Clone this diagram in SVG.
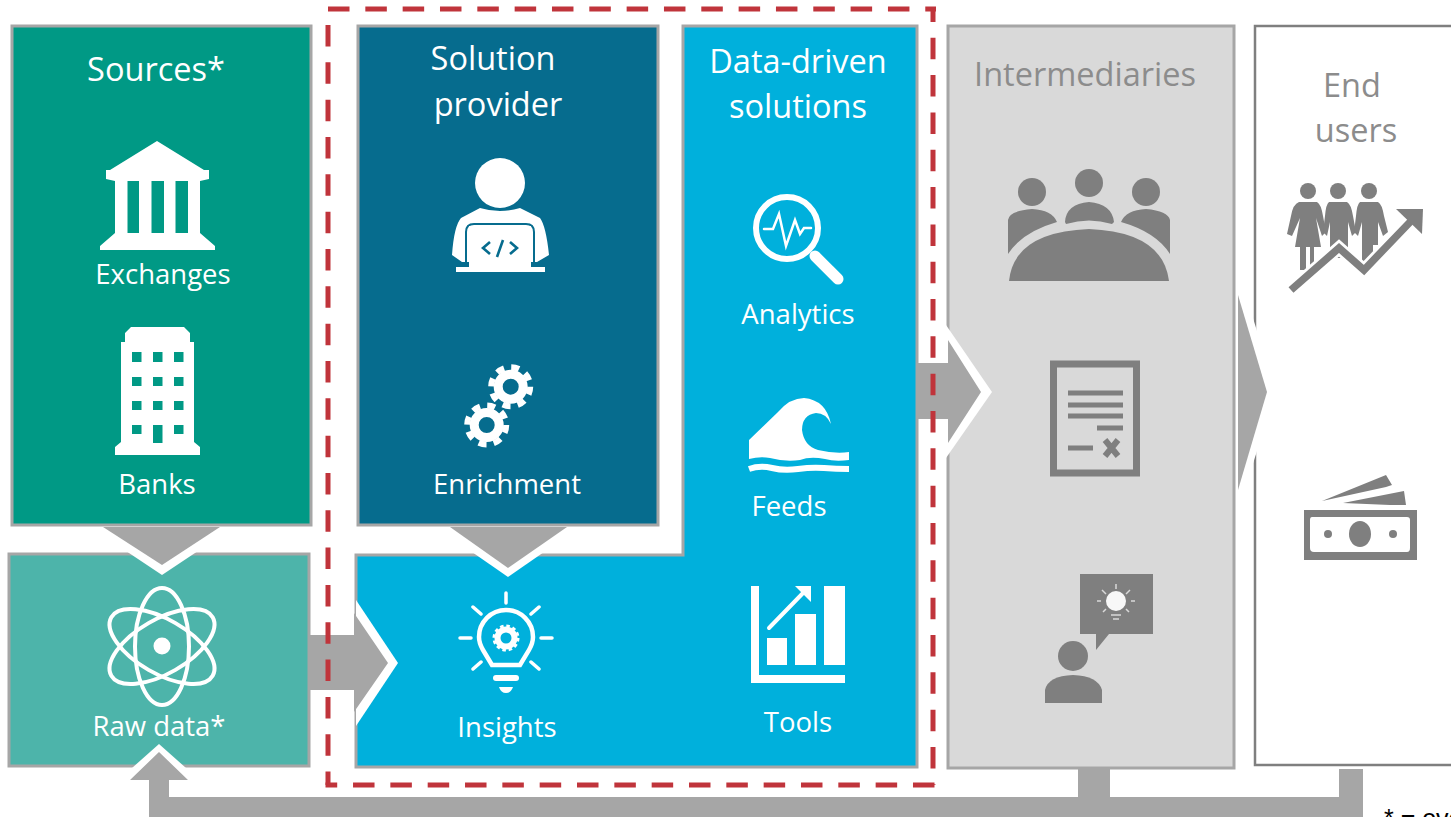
<svg xmlns="http://www.w3.org/2000/svg" width="1451" height="817" viewBox="0 0 1451 817">
<style>
.t{font-family:"Open Sans","Noto Sans",sans-serif;fill:#fff;text-anchor:middle}
.h{font-size:32.500px}.l{font-size:27.500px}
.gt{fill:#8c8c8c}
.g{fill:#7f7f7f}.w{fill:#fff}
.a{fill:#a6a6a6}
.box{stroke:#a6a6a6;stroke-width:3}
.dash{fill:none;stroke:#c0343b;stroke-width:5;stroke-dasharray:21.5 15.83}
.ln{fill:none;stroke:#fff;stroke-linecap:round}
.ring{fill:none;stroke:#fff;stroke-width:9}
.teeth{fill:none;stroke:#fff;stroke-width:6;stroke-dasharray:8 7.31}
</style>
<rect width="1451" height="817" fill="#fff"/>
<g id="sources">
<rect class="box" x="12" y="26" width="299" height="499" fill="#009985"/>
<text class="t h" x="156" y="81">Sources*</text>
<path class="w" d="M157 141L204 170H209V179L200 181V233L215 246V250H100V246L115 233V181L106 179V170H110ZM127.500 181V233H139V181ZM151.500 181V233H164V181ZM175.500 181V233H188V181Z" fill-rule="evenodd"/>
<text class="t l" x="163" y="284">Exchanges</text>
<path class="w" d="M131 327H184L190 333V342H194V442L200 447V455H115V447L121 442V342H125V333ZM132 352V362H141.500V352ZM153 352V362H162.500V352ZM174 352V362H183.500V352ZM132 377V386H141.500V377ZM153 377V386H162.500V377ZM174 377V386H183.500V377ZM132 401V410H141.500V401ZM153 401V410H162.500V401ZM174 401V410H183.500V401ZM132 425V434H141.500V425ZM153 425V443H162.500V425ZM174 425V434H183.500V425Z" fill-rule="evenodd"/>
<text class="t l" x="157" y="494">Banks</text>
</g>
<g id="raw-data">
<rect class="box" x="9" y="554" width="300" height="212" fill="#4db4aa"/>
<g fill="none" stroke="#fff" stroke-width="4">
<ellipse cx="162" cy="646.500" rx="27" ry="58.500"/>
<ellipse cx="162" cy="646.500" rx="27" ry="58.500" transform="rotate(60 162 646.500)"/>
<ellipse cx="162" cy="646.500" rx="27" ry="58.500" transform="rotate(-60 162 646.500)"/>
<circle cx="162" cy="646" r="8.500" fill="#fff" stroke="none"/>
</g>
<text class="t l" x="159" y="736">Raw data*</text>
</g>
<g id="solution-provider">
<rect class="box" x="358" y="26" width="300" height="499" fill="#066c8e"/>
<text class="t h" x="493" y="70">Solution</text>
<text class="t h" x="498" y="116">provider</text>
<circle class="w" cx="500" cy="183" r="25"/>
<path class="w" d="M480 208Q500 214 520 208L540 218Q546 226 549 255L537 262H462L452 255Q454 226 461 218Z"/>
<path d="M466 262V232Q466 224 474 224H526Q534 224 534 232V262" fill="none" stroke="#066c8e" stroke-width="2"/>
<rect class="w" x="456" y="267" width="89" height="5"/>
<rect class="w" x="469" y="226" width="62" height="44"/>
<path d="M490 242L483 248L490 254M510 242L517 248L510 254M503 240L497 257" fill="none" stroke="#066c8e" stroke-width="2.600"/>
<circle class="ring" cx="510.700" cy="386.700" r="12.500"/><circle class="teeth" cx="510.700" cy="386.700" r="19.500"/>
<circle class="ring" cx="486.700" cy="425" r="12.500"/><circle class="teeth" cx="486.700" cy="425" r="19.500"/>
<text class="t l" x="507" y="494">Enrichment</text>
</g>
<g id="data-driven-solutions">
<path class="box" d="M683 26H917V767H356V555H683Z" fill="#00b0dc"/>
<text class="t h" x="798" y="73">Data-driven</text>
<text class="t h" x="798" y="118">solutions</text>
<circle cx="787" cy="228" r="31" fill="none" stroke="#fff" stroke-width="6"/>
<path d="M815 256L838 279" fill="none" stroke="#fff" stroke-width="11" stroke-linecap="round"/>
<path d="M764 229H773L779 214L786 246L795 220L800 234L804 228H811" class="ln" stroke-width="2.500"/>
<text class="t l" x="798" y="324">Analytics</text>
<path class="w" d="M749 440L778 412Q790 398 804 398Q826 400 831 424Q826 413 816 413Q802 415 802 430Q804 446 818 450Q835 454 849 452V460Q835 462 825 459Q810 456 800 460Q785 462 770 458Q760 456 749 459Z"/>
<path d="M749 469Q760 465 772 468T798 469T824 468T849 469" fill="none" stroke="#fff" stroke-width="6"/>
<text class="t l" x="789" y="516">Feeds</text>
<path class="w" d="M751 586H759V675H845V683H751ZM767 638H787V665H767ZM795 614H816V665H795ZM824 586H845V665H824Z"/>
<path d="M769 628L804 592" class="ln" stroke-width="4"/>
<path class="w" d="M795 586H811V602Z"/>
<text class="t l" x="798" y="732">Tools</text>
<g id="insights">
<path d="M506 593V603M473 607L481 614M539 607L531 614M460 638H471M541 638H552M473 669L481 662M539 669L531 662" class="ln" stroke-width="3.500"/>
<path d="M492 665L483 650Q479 643 479 637A27 27 0 0 1 533 637Q533 643 529 650L520 665Z" fill="none" stroke="#fff" stroke-width="4.500"/>
<circle cx="506" cy="638" r="8.500" fill="none" stroke="#fff" stroke-width="6"/>
<circle cx="506" cy="638" r="12" fill="none" stroke="#fff" stroke-width="3" stroke-dasharray="3.500 2.780"/>
<rect class="w" x="493" y="675" width="26" height="6" rx="3"/>
<path class="w" d="M499 687H513Q511 693 506 693Q501 693 499 687Z"/>
<text class="t l" x="507" y="737">Insights</text>
</g>
</g>
<g id="intermediaries">
<rect class="box" x="948" y="26" width="286" height="742" fill="#d9d9d9"/>
<text class="t h gt" x="1085" y="86" style="fill:#8c8c8c">Intermediaries</text>
<circle class="g" cx="1032" cy="192" r="14"/><circle class="g" cx="1089" cy="183" r="14"/><circle class="g" cx="1146" cy="192" r="14"/>
<path class="g" d="M1008 220Q1009 211 1032 209Q1052 210 1057 222Q1022 232 1008 254ZM1065 222Q1066 204 1089 202Q1112 204 1114 222L1112 224Q1089 217 1066 224ZM1121 222Q1126 210 1146 209Q1168 211 1170 220V254Q1156 232 1121 222Z"/>
<path class="g" d="M1009 281Q1014 232 1089 229Q1163 232 1169 281Z"/>
<rect x="1053.500" y="364" width="83" height="109" fill="none" stroke="#7f7f7f" stroke-width="7"/>
<path d="M1068 393H1123M1068 405H1123M1068 416H1123M1097 428H1123M1068 448H1093" fill="none" stroke="#7f7f7f" stroke-width="5"/>
<path d="M1105 440L1118 456M1118 440L1105 456" fill="none" stroke="#7f7f7f" stroke-width="6"/>
<path class="g" d="M1080 574H1153V634H1109L1096 650V634H1080Z"/>
<circle cx="1116" cy="601" r="10" fill="#fff" opacity=".95"/>
<path d="M1116 584V589M1102 590L1106 594M1130 590L1126 594M1097 601H1101M1131 601H1135M1103 612L1106 609M1129 612L1126 609M1111 615H1121M1113 619H1119" fill="none" stroke="#d9d9d9" stroke-width="1.500"/>
<circle class="g" cx="1073" cy="656" r="15"/>
<path class="g" d="M1045 703V690Q1048 676 1073 675Q1098 676 1102 690V703Z"/>
</g>
<g id="end-users">
<path d="M1451 26H1255V765H1451" fill="#fff" stroke="#7f7f7f" stroke-width="2.500"/>
<text class="t h" x="1352" y="97" style="fill:#8c8c8c">End</text>
<text class="t h" x="1356" y="142" style="fill:#8c8c8c">users</text>
<circle class="g" cx="1308" cy="191" r="8"/><circle class="g" cx="1338" cy="191" r="8"/><circle class="g" cx="1369" cy="191" r="8"/>
<path class="g" d="M1299 202H1317Q1321 204 1323 216L1326 232L1322 236L1316 218L1321 247H1314V270H1310V247H1306V270H1300V247H1295L1300 218L1292 236L1287 234L1291 216Q1293 204 1299 202Z"/>
<path class="g" d="M1329 202H1347Q1351 204 1353 216L1356 232L1352 236L1348 222V258H1330V222L1327 236L1323 232L1325 216Q1326 204 1329 202Z"/>
<path class="g" d="M1360 202H1378Q1382 204 1384 216L1388 232L1383 236L1378 222V245H1373V258H1369V268H1362V222L1358 236L1354 232L1356 216Q1357 204 1360 202Z"/>
<path d="M1291 290L1339 248L1364 270L1412 220" fill="none" stroke="#fff" stroke-width="13"/>
<path d="M1291 290L1339 248L1364 270L1412 220" fill="none" stroke="#7f7f7f" stroke-width="7.500"/>
<path class="g" d="M1396 209H1423L1422 234Z"/>
<path class="g" d="M1304 510H1417V560H1304ZM1312 517Q1310 517 1310 520V548Q1310 552 1314 552H1407Q1410 552 1410 548V520Q1410 517 1407 517Z" fill-rule="evenodd"/>
<ellipse class="g" cx="1360" cy="534" rx="11" ry="13"/><circle class="g" cx="1328" cy="534" r="4"/><circle class="g" cx="1393" cy="534" r="4"/>
<path class="g" d="M1322 501L1386 475L1392 485L1386 487ZM1343 503L1404 491L1406 505H1390Z"/>
</g>
<g id="connectors">
<path class="w" d="M90 527H234L162 575Z"/><path class="a" d="M103 527H220L162 565Z"/>
<path class="w" d="M436 527H580L508 577Z"/><path class="a" d="M450 527H567L508 568Z"/>
<path class="w" d="M356 600L398 663L356 726Z"/>
<path class="a" d="M310 635H354V613L388 663L354 712V690H310Z"/>
<path class="w" d="M946 325L992 392L946 458Z"/>
<path class="a" d="M917 363H948V340L981 392L948 443V419H917Z"/>
<path class="w" d="M1238 270L1276 392L1238 510Z"/>
<path class="a" d="M1238 295L1267 392L1238 490Z"/>
<path class="w" d="M132 768L159 744L186 768Z"/>
<path class="a" d="M130 780L159 752L188 780H169V797H1078V767H1110V797H1339V769H1363V817H149V780Z"/>
</g>
<g id="scope-box">
<path class="dash" d="M328 9H936"/>
<path class="dash" d="M933 9V785" stroke-dashoffset="8.6"/>
<path class="dash" d="M325.500 785H936" stroke-dashoffset="9.8"/>
<path class="dash" d="M328 25V785"/>
</g>
<text x="1384" y="827" font-family="Liberation Sans,sans-serif" font-size="25" fill="#000">* = ove</text>
</svg>
